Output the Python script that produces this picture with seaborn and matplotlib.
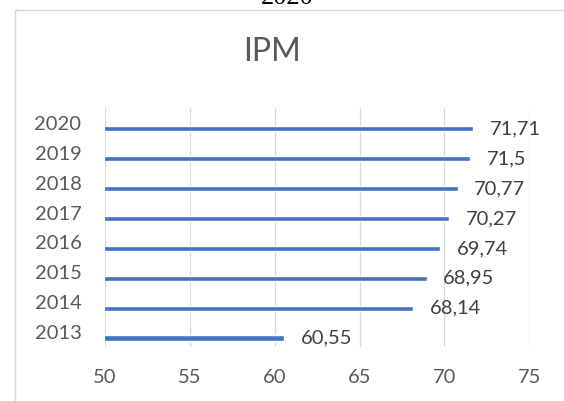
import numpy as np
import pandas as pd
import matplotlib
matplotlib.use("Agg")
import matplotlib.pyplot as plt
from matplotlib.patches import Rectangle
import seaborn as sns

# IPM values per year (top row = latest year)
years = ["2020", "2019", "2018", "2017", "2016", "2015", "2014", "2013"]
ipm = [71.71, 71.5, 70.77, 70.27, 69.74, 68.95, 68.14, 60.55]
x_ticks = [50, 55, 60, 65, 70, 75]

sns.set_theme(style="white")
plt.rcParams["font.family"] = ["Lato", "DejaVu Sans"]

df = pd.DataFrame({"Tahun": years, "IPM": ipm})

fig = plt.figure(figsize=(5.64, 4.01), dpi=100)
ax = fig.add_axes([105 / 564, 1 - 347 / 401, (529.3 - 105) / 564, (347 - 108) / 401])

sns.barplot(data=df, x="IPM", y="Tahun", order=years, orient="h",
            color="#4472C4", width=0.17, saturation=1, ax=ax)

ax.set_xlim(x_ticks[0], x_ticks[-1])
ax.set_xticks(x_ticks)
ax.set_xticklabels([str(t) for t in x_ticks])
n = len(years)
ax.set_ylim(n - 0.5 - 0.2, -0.7)
ax.set_yticks(np.arange(n) - 0.2, years)

ax.grid(axis="x", color="#D9D9D9", linewidth=0.9)
ax.grid(axis="y", visible=False)
ax.set_axisbelow(True)
for s in ax.spines.values():
    s.set_visible(False)
ax.set_xlabel("")
ax.set_ylabel("")
ax.tick_params(axis="x", length=0, pad=16, labelsize=14.5, labelcolor="#595959")
ax.tick_params(axis="y", length=0, pad=17, labelsize=14.5, labelcolor="#595959")

ax.bar_label(ax.containers[0],
             labels=[str(v).replace(".", ",") for v in ipm],
             padding=12, fontsize=14.5, color="#404040")

fig.text(271.7 / 564, 1 - 52 / 401, "IPM", ha="center", va="center",
         fontsize=23, color="#595959")

# chart area frame
fig.patches.append(Rectangle((15 / 564, -0.05), 1.1, 1 - 10 / 401 + 0.05,
                             transform=fig.transFigure, fill=False,
                             edgecolor="#D9D9D9", linewidth=1.0))

# caption line above the chart, partially cut off by the page edge
fig.text(287 / 564, 1 - 4 / 401, "2020", ha="center", va="baseline",
         fontsize=19, color="black", family=["Liberation Serif"])

fig.savefig("out.png", dpi=100)
